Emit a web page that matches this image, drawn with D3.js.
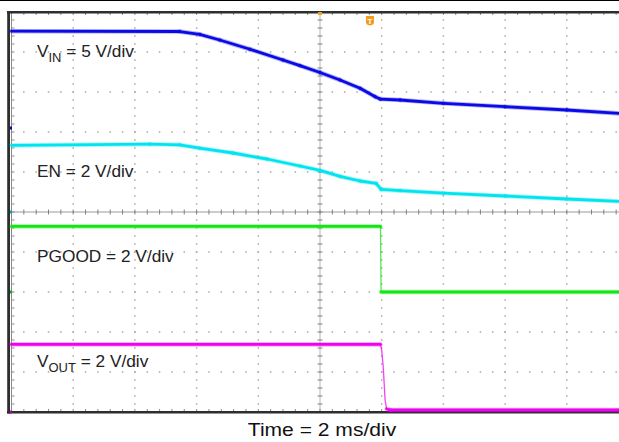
<!DOCTYPE html>
<html><head><meta charset="utf-8">
<script src="https://cdn.jsdelivr.net/npm/d3@7"></script>
<style>html,body{margin:0;padding:0;background:#fff;}svg{display:block;}</style>
</head><body>
<svg id="c" width="619" height="442"></svg>
<script>
// ---- data (time in ms, 2 ms/div, 0 = screen centre; values in volts) ----
const vinTime  = [-10, -4.55, -3.9, -3.25, -2.27, -1.2, -0.65, 0, 0.65, 1.3, 1.79, 1.95, 2.6, 4.0, 6.0, 8.0, 9.75];
const vinVolts = [12.1, 12.06, 11.7, 11.0, 9.84, 8.5, 7.8, 6.94, 6.0, 4.96, 3.91, 3.62, 3.5, 3.09, 2.66, 2.25, 1.81];

const enTime  = [-10, -5.52, -4.55, -3.9, -2.82, -1.72, -0.65, 0, 0.65, 1.3, 1.82, 1.98, 2.6, 4.0, 6.0, 8.0, 9.75];
const enVolts = [3.33, 3.39, 3.36, 3.19, 2.95, 2.65, 2.3, 2.08, 1.78, 1.55, 1.43, 1.13, 1.07, 0.94, 0.8, 0.65, 0.53];

const pgoodTime  = [-10, 1.96, 1.98, 9.75];
const pgoodVolts = [3.28, 3.28, 0.0, 0.0];

const voutTime  = [-10, 1.96, 2.0, 2.05, 2.11, 2.16, 2.27, 9.75];
const voutVolts = [3.38, 3.38, 3.1, 2.25, 0.6, 0.15, 0.1, 0.1];

const channelNames  = ["VIN", "EN", "PGOOD", "VOUT"];
const voltsPerDiv   = [5, 2, 2, 2];
const groundDiv     = [7.1, 5, 3, 0];        // ground marker position (divisions from bottom)
const triggerTime   = 1.62;                   // ms
const timeLabel     = "Time = 2 ms/div";

// ---- scales ----
const xScale = d3.scaleLinear().domain([-10, 10]).range([11.5, 628.5]);
const yScale = d3.scaleLinear().domain([0, 10]).range([412, 12]);

const svg = d3.select("#c");
svg.append("rect").attr("width", 619).attr("height", 442).attr("fill", "#fff");
svg.append("line").attr("x1", 0).attr("x2", 619).attr("y1", 0.5).attr("y2", 0.5)
  .attr("stroke", "#000").attr("stroke-width", 1);

// ---- graticule ----
const g = svg.append("g");
const minorDiv = d3.range(0, 10.001, 0.2);
const minorT = d3.range(-10, 10.001, 0.4);
const majorT = [-8, -6, -4, -2, 2, 4, 6, 8];
const majorDiv = [1, 2, 3, 4, 6, 7, 8, 9];
const dotCol = "#a8a8a8";
majorT.forEach(t => {
  g.selectAll(null).data(minorDiv).enter().append("rect")
    .attr("x", xScale(t) - 0.75).attr("y", d => yScale(d) - 0.75)
    .attr("width", 1.5).attr("height", 1.5).attr("fill", dotCol);
});
majorDiv.forEach(dv => {
  g.selectAll(null).data(minorT).enter().append("rect")
    .attr("x", d => xScale(d) - 0.75).attr("y", yScale(dv) - 0.75)
    .attr("width", 1.5).attr("height", 1.5).attr("fill", dotCol);
});
// crosshair
g.append("line").attr("x1", xScale(-10)).attr("x2", xScale(10))
  .attr("y1", yScale(5)).attr("y2", yScale(5)).attr("stroke", "#9a9a9a").attr("stroke-width", 1);
g.append("line").attr("x1", xScale(0)).attr("x2", xScale(0))
  .attr("y1", yScale(0)).attr("y2", yScale(10)).attr("stroke", "#b4b4b4").attr("stroke-width", 1);
g.selectAll(null).data(minorT).enter().append("line")
  .attr("x1", d => xScale(d)).attr("x2", d => xScale(d))
  .attr("y1", yScale(5) - 2.5).attr("y2", yScale(5) + 2.5).attr("stroke", "#808080");
g.selectAll(null).data(minorDiv).enter().append("line")
  .attr("y1", d => yScale(d)).attr("y2", d => yScale(d))
  .attr("x1", xScale(0) - 2.5).attr("x2", xScale(0) + 2.5).attr("stroke", "#808080");
// edge ticks
g.selectAll(null).data(minorDiv).enter().append("line")
  .attr("y1", d => yScale(d)).attr("y2", d => yScale(d))
  .attr("x1", xScale(-10)).attr("x2", xScale(-10) + 3).attr("stroke", "#8a8a8a");
g.selectAll(null).data(minorT).enter().append("line")
  .attr("x1", d => xScale(d)).attr("x2", d => xScale(d))
  .attr("y1", yScale(10)).attr("y2", yScale(10) + 3).attr("stroke", "#8a8a8a");
g.selectAll(null).data(minorT).enter().append("line")
  .attr("x1", d => xScale(d)).attr("x2", d => xScale(d))
  .attr("y1", yScale(0)).attr("y2", yScale(0) - 3).attr("stroke", "#8a8a8a");
g.append("line").attr("x1", xScale(-10)).attr("x2", xScale(-10))
  .attr("y1", yScale(0)).attr("y2", yScale(10)).attr("stroke", "#8a8a8a");

// frame
const frameCol = "#2e2e2e";
svg.append("line").attr("x1", 7).attr("x2", 619).attr("y1", yScale(10) + 0.2).attr("y2", yScale(10) + 0.2)
  .attr("stroke", frameCol).attr("stroke-width", 2.4);
svg.append("line").attr("x1", 7).attr("x2", 619).attr("y1", yScale(0) + 0.3).attr("y2", yScale(0) + 0.3)
  .attr("stroke", frameCol).attr("stroke-width", 2.5);
svg.append("line").attr("x1", 8.6).attr("x2", 8.6).attr("y1", yScale(10) - 1).attr("y2", yScale(0) + 1.5)
  .attr("stroke", frameCol).attr("stroke-width", 2.8);

// ---- traces ----
const colors = ["#0a0ae6", "#00e4ef", "#14e614", "#f000f0"];
const traces = [
  [vinTime, vinVolts], [enTime, enVolts], [pgoodTime, pgoodVolts], [voutTime, voutVolts]
];
const tr = svg.append("g");
traces.forEach(([ts, vs], i) => {
  const pts = ts.map((t, k) => [xScale(t), yScale(groundDiv[i] + vs[k] / voltsPerDiv[i])]);
  const segs = d3.pairs(pts);
  const steep = s => Math.abs(s[1][1] - s[0][1]) > 2.5 * Math.abs(s[1][0] - s[0][0]);
  // halo
  tr.selectAll(null).data(segs.filter(s => !steep(s))).enter().append("line")
    .attr("x1", s => s[0][0]).attr("y1", s => s[0][1]).attr("x2", s => s[1][0]).attr("y2", s => s[1][1])
    .attr("stroke", colors[i]).attr("stroke-opacity", 0.3).attr("stroke-width", 4.6).attr("stroke-linecap", "round");
  tr.selectAll(null).data(segs).enter().append("line")
    .attr("x1", s => s[0][0]).attr("y1", s => s[0][1]).attr("x2", s => s[1][0]).attr("y2", s => s[1][1])
    .attr("stroke", colors[i])
    .attr("stroke-opacity", s => steep(s) ? 0.75 : 1)
    .attr("stroke-width", s => steep(s) ? 1.3 : 2.8)
    .attr("stroke-linecap", s => steep(s) ? "butt" : "round");
  // ground marker
  svg.append("rect").attr("x", 10).attr("y", yScale(groundDiv[i]) - 1.5)
    .attr("width", 2).attr("height", 3).attr("fill", d3.color(colors[i]).darker(0.8));
});

// trigger markers
svg.append("rect").attr("x", xScale(0) - 2).attr("y", yScale(10)).attr("width", 4).attr("height", 3)
  .attr("fill", "#f0a030");
const tg = svg.append("g").attr("transform", `translate(${xScale(triggerTime)},16)`);
tg.append("path").attr("d", "M-4,0 H4 V6 Q4,9 0,9.5 Q-4,9 -4,6 Z").attr("fill", "#f59a1c");
tg.append("text").attr("x", 0).attr("y", 7.5).attr("text-anchor", "middle")
  .attr("font-family", "Liberation Sans, Arial, sans-serif").attr("font-size", 8).attr("font-weight", "bold")
  .attr("fill", "#fff").text("T");

// ---- labels ----
const font = "Liberation Sans, Arial, Helvetica, sans-serif";
const labels = [
  {main: "V", sub: "IN", rest: " = 5 V/div", y: 57},
  {main: "EN = 2 V/div", sub: null, rest: null, y: 177},
  {main: "PGOOD = 2 V/div", sub: null, rest: null, y: 262},
  {main: "V", sub: "OUT", rest: " = 2 V/div", y: 367}
];
labels.forEach(l => {
  const t = svg.append("text").attr("transform", `translate(37,${l.y}) scale(1.08,1)`)
    .attr("font-family", font).attr("font-size", 16).attr("fill", "#222");
  t.append("tspan").text(l.main);
  if (l.sub) {
    t.append("tspan").attr("font-size", 12).attr("dy", 5).text(l.sub);
    t.append("tspan").attr("dy", -5).text(l.rest);
  }
});
svg.append("text").attr("transform", "translate(322,436) scale(1.17,1)")
  .attr("text-anchor", "middle").attr("font-family", font).attr("font-size", 18)
  .attr("fill", "#111").text(timeLabel);
</script>
</body></html>
